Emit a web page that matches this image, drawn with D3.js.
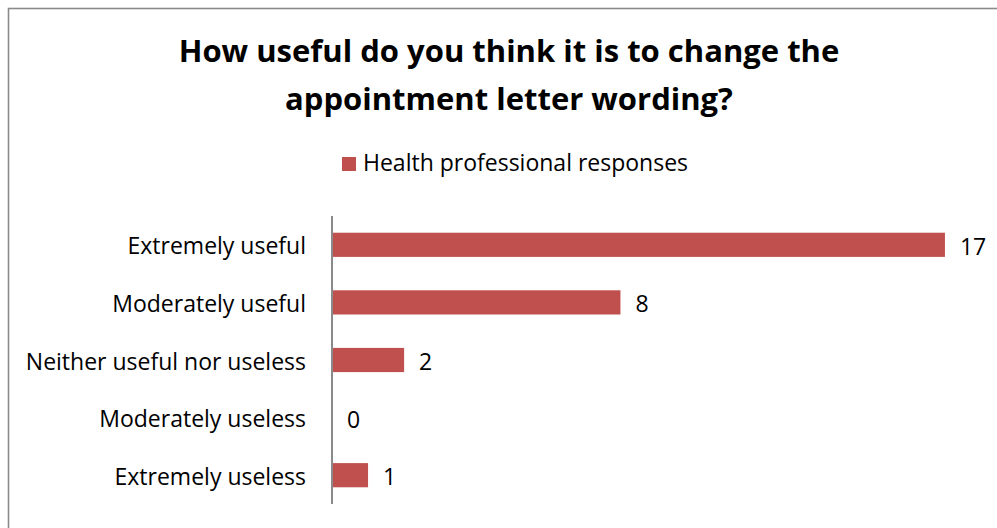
<!DOCTYPE html>
<html>
<head>
<meta charset="UTF-8">
<title>Appointment letter wording</title>
<script src="https://d3js.org/d3.v7.min.js"></script>
<style>
body { margin: 0; background: #fff; }
text { font-family: "Open Sans", Lato, sans-serif; fill: #000; }
</style>
</head>
<body>
<script>

/* Chart data */
var categories = ['Extremely useful', 'Moderately useful', 'Neither useful nor useless', 'Moderately useless', 'Extremely useless']
var values = [17, 8, 2, 0, 1]
var seriesName = 'Health professional responses'
var titleLines = ['How useful do you think it is to change the', 'appointment letter wording?']

/* Layout */
var W = 997, H = 528
var barColor = '#C0504D'
var axisX = 332
var labelSize = '23px'

var svg = d3.select('body').append('svg')
	.attr('width', W)
	.attr('height', H)

// outer chart border (runs past the right and bottom edges)
svg.append('rect')
	.attr('x', 8.5).attr('y', 8.5)
	.attr('width', 1100).attr('height', 700)
	.style('fill', 'none')
	.style('stroke', '#8a8a8a')
	.style('stroke-width', 1.6)

// title
svg.selectAll('text.title')
	.data(titleLines)
	.enter().append('text')
	.attr('class', 'title')
	.attr('x', 509)
	.attr('y', function(d, i) { return 62 + i * 48 })
	.attr('text-anchor', 'middle')
	.style('font-size', '31px')
	.style('font-weight', 'bold')
	.text(function(d) { return d })

// legend
svg.append('rect')
	.attr('x', 342).attr('y', 157)
	.attr('width', 14).attr('height', 14)
	.style('fill', barColor)
svg.append('text')
	.attr('x', 363).attr('y', 171)
	.style('font-size', labelSize)
	.text(seriesName)

/* Scales */
var x = d3.scaleLinear()
	.domain([0, 18])
	.range([axisX, 981])
var y = d3.scaleBand()
	.domain(categories)
	.range([216, 504])
	.paddingInner(0.58)
	.paddingOuter(0.29)

// bars
svg.selectAll('rect.bar')
	.data(values)
	.enter().append('rect')
	.attr('class', 'bar')
	.attr('x', x(0))
	.attr('y', function(d, i) { return y(categories[i]) })
	.attr('width', function(d) { return x(d) - x(0) })
	.attr('height', y.bandwidth())
	.style('fill', barColor)

// value labels
svg.selectAll('text.val')
	.data(values)
	.enter().append('text')
	.attr('class', 'val')
	.attr('x', function(d) { return x(d) + 15 })
	.attr('y', function(d, i) { return y(categories[i]) + y.bandwidth() / 2 + 10 })
	.style('font-size', labelSize)
	.text(function(d) { return d })

// category axis: just the line and the labels
var yAxis = d3.axisLeft(y).tickSize(0).tickPadding(26)
var g = svg.append('g')
	.attr('transform', 'translate(' + axisX + ',0)')
	.call(yAxis)
g.select('.domain')
	.attr('d', 'M0,216V504')
	.style('stroke', '#8a8a8a')
	.style('stroke-width', 2)
g.selectAll('.tick text')
	.style('font-family', '"Open Sans", Lato, sans-serif')
	.style('font-size', labelSize)
	.attr('dy', '0.42em')

</script>
</body>
</html>
